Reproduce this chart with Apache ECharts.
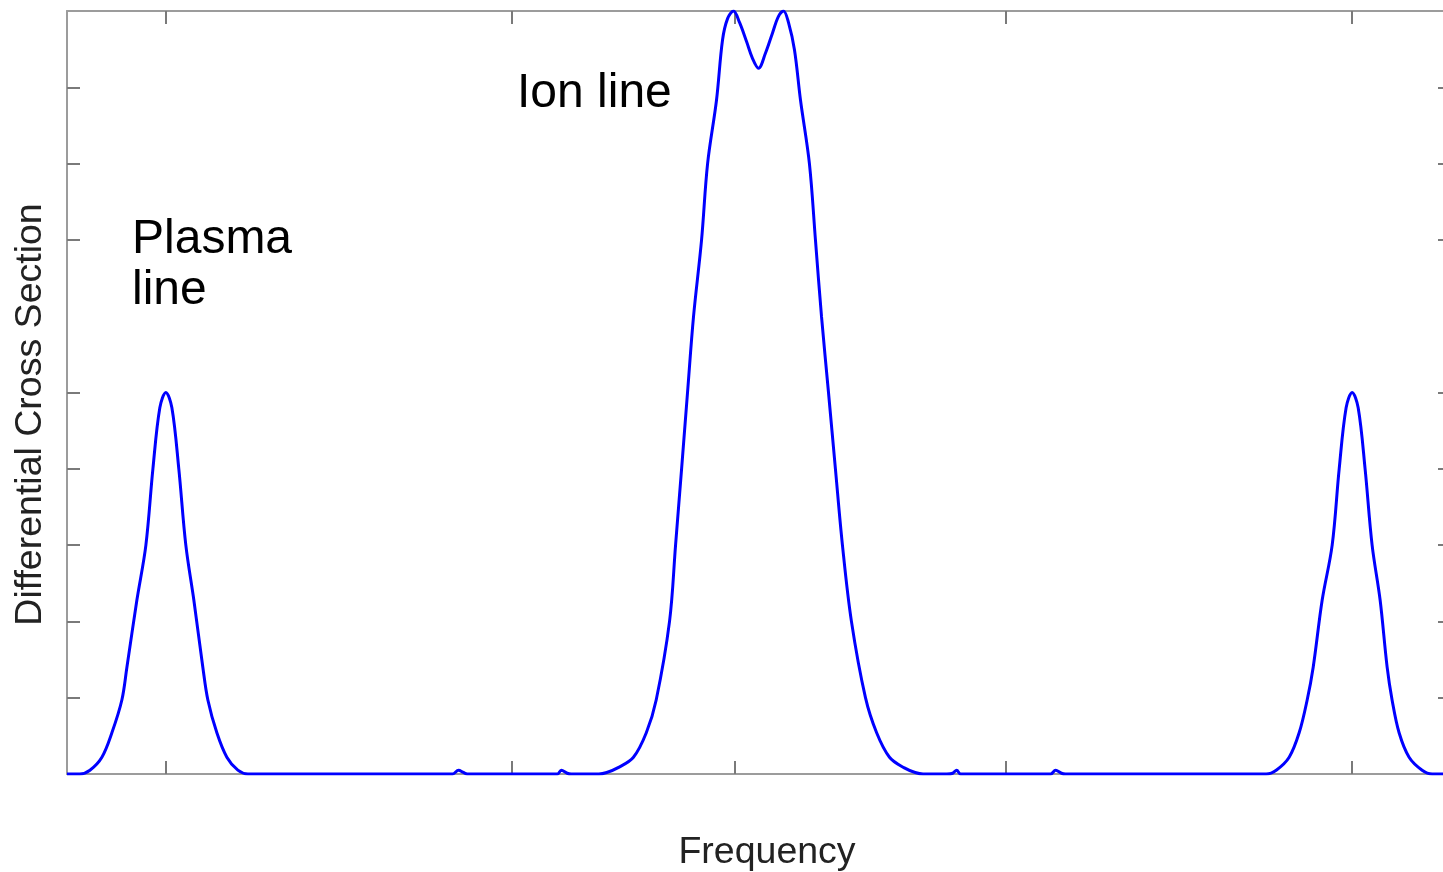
<!DOCTYPE html>
<html>
<head>
<meta charset="utf-8">
<script src="https://cdn.jsdelivr.net/npm/echarts@6/dist/echarts.min.js"></script>
<style>
html,body{margin:0;padding:0;background:#fff;}
#chart{width:1443px;height:872px;}
</style>
</head>
<body>
<div id="chart"></div>
<script>
// Frequency (arbitrary units, symmetric about 0) and differential cross section
const freq = [
  -7.00, -6.87, -6.768, -6.647, -6.546, -6.445, -6.394, -6.293, -6.202, -6.131, -6.061, -6.00,
  -5.939, -5.869, -5.798, -5.717, -5.626, -5.575, -5.484, -5.383, -5.272, -5.17,
  -3.10, -3.04, -2.99, -2.95,
  -2.04, -2.00, -1.94, -1.90,
  -1.62, -1.54, -1.43, -1.27, -1.14, -1.04, -0.905, -0.844, -0.783, -0.723, -0.662, -0.581, -0.520,
  -0.430, -0.369, -0.318, -0.258, -0.197, -0.126, -0.066, -0.005, 0.066, 0.136, 0.197, 0.248,
  0.298, 0.359, 0.420, 0.510, 0.571, 0.632, 0.703, 0.773, 0.844, 0.935, 1.077, 1.19, 1.32, 1.47, 1.58, 1.66,
  1.90, 1.96, 2.00, 2.04,
  2.95, 3.00, 3.06, 3.10,
  5.13, 5.232, 5.363, 5.464, 5.545, 5.606, 5.697, 5.798, 5.869, 5.939, 6.00,
  6.061, 6.131, 6.202, 6.283, 6.354, 6.404, 6.475, 6.576, 6.708, 6.81, 7.00
];
const crossSection = [
  0, 0, 0.05, 0.22, 0.54, 0.97, 1.4, 2.28, 3.0, 4.0, 4.8, 5.0,
  4.8, 4.0, 3.0, 2.28, 1.4, 0.97, 0.54, 0.22, 0.05, 0,
  0, 0.05, 0.02, 0,
  0, 0.05, 0.01, 0,
  0, 0.02, 0.08, 0.22, 0.54, 0.97, 2.0, 3.0, 4.0, 5.0, 6.0, 7.0, 8.0,
  8.83, 9.62, 9.9, 10.0, 9.85, 9.6, 9.38, 9.25, 9.45, 9.71, 9.93, 10.0,
  9.85, 9.49, 8.83, 8.0, 7.0, 6.0, 5.0, 4.0, 3.0, 2.0, 1.0, 0.54, 0.22, 0.08, 0.02, 0,
  0, 0.01, 0.05, 0,
  0, 0.05, 0.01, 0,
  0, 0.05, 0.22, 0.54, 0.97, 1.4, 2.28, 3.0, 4.0, 4.8, 5.0,
  4.8, 4.0, 3.0, 2.28, 1.4, 0.97, 0.54, 0.22, 0.05, 0, 0
];
const xTickValues = [-6, -2.5, -0.25, 2.5, 6];
const yTickValues = [1, 2, 3, 4, 5, 7, 8, 9];
const xTitle = 'Frequency';
const yTitle = 'Differential Cross Section';
const ionLabel = 'Ion line';
const plasmaLabel = 'Plasma\nline';

const FONT = '"Liberation Sans", Arial, Helvetica, sans-serif';
const axisColor = '#9c9c9c';
const tickColor = '#7a7a7a';

const chart = echarts.init(document.getElementById('chart'), null, {renderer: 'canvas'});

function xAx(pos, withName) {
  return {
    type: 'value', position: pos, min: -7, max: 7,
    name: withName ? xTitle : '', nameLocation: 'middle', nameGap: 60,
    nameTextStyle: {fontFamily: FONT, fontSize: 37.5, color: '#222', padding: [0, 0, 0, 16]},
    axisLine: {show: true, onZero: false, lineStyle: {color: axisColor, width: 2}},
    axisTick: {show: true, inside: true, length: 13, customValues: xTickValues, lineStyle: {color: tickColor, width: 2}},
    axisLabel: {show: false},
    splitLine: {show: false}
  };
}
function yAx(pos, withName) {
  return {
    type: 'value', position: pos, min: 0, max: 10,
    name: withName ? yTitle : '', nameLocation: 'middle', nameGap: 17,
    nameTextStyle: {fontFamily: FONT, fontSize: 37.5, color: '#222', padding: [0, 44, 0, 0]},
    axisLine: {show: true, onZero: false, lineStyle: {color: axisColor, width: 2}},
    axisTick: {show: true, inside: true, length: 13, customValues: yTickValues, lineStyle: {color: tickColor, width: 2}},
    axisLabel: {show: false},
    splitLine: {show: false}
  };
}

chart.setOption({
  animation: false,
  backgroundColor: '#fff',
  grid: {left: 67, width: 1384, top: 11, bottom: 98, containLabel: false, outerBoundsMode: 'none'},
  xAxis: [xAx('bottom', true), xAx('top', false)],
  yAxis: [yAx('left', true), yAx('right', false)],
  series: [{
    type: 'line',
    xAxisIndex: 0, yAxisIndex: 0,
    data: freq.map((f, i) => [f, crossSection[i]]),
    showSymbol: false,
    smooth: 0.35,
    lineStyle: {color: '#0000ff', width: 3},
    z: 5
  }],
  graphic: [
    {type: 'text', x: 517, y: 70, style: {text: ionLabel, font: '48px ' + FONT, fill: '#000', verticalAlign: 'top'}},
    {type: 'text', x: 132, y: 214, style: {text: plasmaLabel, font: '48px ' + FONT, lineHeight: 51, fill: '#000', verticalAlign: 'top'}}
  ]
});
</script>
</body>
</html>
